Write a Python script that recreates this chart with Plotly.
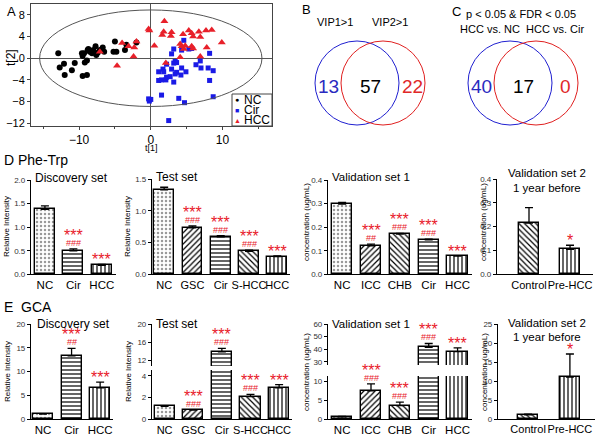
import plotly.graph_objects as go

W, H = 598, 435
FONT = "Liberation Sans, Arial, sans-serif"
RED = "#e8202a"
BLUE = "#1a1ae6"

# ---------------- data ----------------
# Panel A: OPLS-DA scores
nc_t1 = [-12.9, -12.7, -12.1, -12.0, -11.0, -10.6, -9.6, -9.5, -9.5, -9.2, -8.9, -8.9, -8.8, -8.7, -8.5,
         -8.2, -8.0, -7.7, -7.6, -7.4, -7.1, -6.7, -6.5, -5.2, -5.0, -4.8, -3.6, -3.4, -2.0, -9.3]
nc_t2 = [0.9, -1.7, -1.0, -3.1, -2.2, -0.9, 0.9, 0.4, -3.3, -0.8, -0.4, -3.1, 1.5, 1.7, 1.2,
         0.9, 1.5, 2.2, 0.6, 1.0, 1.5, 2.0, 1.2, 1.2, 3.1, 1.2, 1.5, 2.5, 2.9, 0.9]
cir_t1 = [4.6, 2.9, 3.2, 2.2, 1.7, 1.1, 1.8, 1.1, 1.5, 2.1, 2.2, 2.7, 2.9, 3.2, 3.4, 3.6, 3.2, 3.4, 3.6,
          4.2, 4.3, 4.9, 5.3, 6.3, 6.9, 7.0, 8.0, 8.2, 8.2, 8.7, -0.3, -0.2, 0.0, 1.5, 3.9, 4.7, 8.7,
          2.5, 5.7, 4.3]
cir_t2 = [3.3, 0.8, 1.7, -1.1, -2.0, -2.5, -2.5, -4.1, -4.0, -4.0, -3.5, -3.4, -2.0, -0.9, -0.6, -0.8,
          -4.4, -2.9, -2.6, -3.1, -1.8, -2.5, 1.7, -1.2, -0.5, -1.8, -1.8, 0.9, -4.1, -2.3, -7.5, -7.9,
          -7.6, -6.8, -7.4, -8.2, -7.1, -11.5, 1.8, 1.5]
hcc_t1 = [-7.1, -4.7, -4.0, -3.1, -2.4, -2.3, -2.0, -0.3, -0.2, 0.5, 1.9, 1.6, 1.8, 2.9, 2.8, 2.1, 4.1,
          4.5, 4.1, 4.3, 4.6, 4.8, 5.3, 5.7, 5.9, 5.7, 5.9, 6.7, 6.9, 6.9, 7.7, 7.8, 8.5, 9.9]
hcc_t2 = [1.2, -1.4, 2.8, 2.2, 0.3, 2.0, 3.1, 5.4, 5.1, 2.3, 6.8, 4.3, 4.9, 4.8, 4.1, -0.9, 0.2,
          4.4, 2.6, 2.2, 1.7, 2.3, 5.1, 4.6, 4.0, 2.2, 1.8, 4.9, 3.9, 0.3, 5.1, 2.0, 5.2, 2.9]
ellipse_t1 = 15.5
ellipse_t2 = 8.9

# Panels B, C: Venn counts
venn_b_counts = [13, 57, 22]
venn_b_labels = ["VIP1>1", "VIP2>1"]
venn_c_counts = [40, 17, 0]
venn_c_title = "p < 0.05 & FDR < 0.05"
venn_c_labels = ["HCC vs. NC", "HCC vs. Cir"]

# Panel D: Phe-Trp
d_disc_cats = ["NC", "Cir", "HCC"]
d_disc_vals = [1.38, 0.50, 0.19]
d_disc_err = [0.07, 0.04, 0.02]
d_disc_stars = ["", "***", "***"]
d_disc_hash = ["", "###", ""]

d_test_cats = ["NC", "GSC", "Cir", "S-HCC", "HCC"]
d_test_vals = [1.33, 0.73, 0.59, 0.36, 0.28]
d_test_err = [0.04, 0.03, 0.02, 0.02, 0.01]
d_test_stars = ["", "***", "***", "***", "***"]
d_test_hash = ["", "###", "###", "###", ""]

d_val1_cats = ["NC", "ICC", "CHB", "Cir", "HCC"]
d_val1_vals = [0.298, 0.121, 0.170, 0.146, 0.077]
d_val1_err = [0.007, 0.007, 0.004, 0.003, 0.002]
d_val1_stars = ["", "***", "***", "***", "***"]
d_val1_hash = ["", "##", "###", "###", ""]

d_val2_cats = ["Control", "Pre-HCC"]
d_val2_vals = [0.215, 0.105]
d_val2_err = [0.065, 0.017]
d_val2_stars = ["", "*"]
d_val2_hash = ["", ""]

# Panel E: GCA
e_disc_cats = ["NC", "Cir", "HCC"]
e_disc_vals = [1.1, 13.3, 6.6]
e_disc_err = [0.1, 1.6, 1.2]
e_disc_stars = ["", "***", "***"]
e_disc_hash = ["", "##", ""]

e_test_cats = ["NC", "GSC", "Cir", "S-HCC", "HCC"]
e_test_vals = [1.2, 0.85, 13.8, 2.1, 2.9]
e_test_err = [0.05, 0.05, 0.8, 0.2, 0.3]
e_test_stars = ["", "***", "***", "***", "***"]
e_test_hash = ["", "###", "###", "###", ""]

e_val1_cats = ["NC", "ICC", "CHB", "Cir", "HCC"]
e_val1_vals = [0.6, 7.5, 3.6, 41.5, 38.0]
e_val1_err = [0.1, 1.9, 0.9, 3.0, 3.0]
e_val1_stars = ["", "***", "***", "***", "***"]
e_val1_hash = ["", "###", "###", "###", ""]

e_val2_cats = ["Control", "Pre-HCC"]
e_val2_vals = [1.1, 11.0]
e_val2_err = [0.2, 6.1]
e_val2_stars = ["", "*"]
e_val2_hash = ["", ""]

# ---------------- helpers ----------------
def px(x):
    return x / W

def py(y):
    return 1 - y / H

fig = go.Figure()
layout = {}
annotations = []
shapes = []
axn = [1]

def txt(x, y, s, size=12, color="black", xanchor="center", yanchor="middle", angle=0):
    annotations.append(dict(x=px(x), y=py(y), xref="paper", yref="paper", text=s, showarrow=False,
                            xanchor=xanchor, yanchor=yanchor, textangle=angle,
                            font=dict(family=FONT, size=size, color=color)))

PAT = {"NC": ".", "Cir": "-", "HCC": "|", "GSC": "/", "S-HCC": "\\", "ICC": "/", "CHB": "\\",
       "Control": "\\", "Pre-HCC": "|"}

def bar_panel(cats, vals, errs, stars, hashes, xdom, xrange, segs, width, label_size=11.5):
    n = len(cats)
    xs = list(range(n))
    pats = [PAT[c] for c in cats]
    fg = ["#9a9a9a" if p == "." else "black" for p in pats]
    seg_axes = []
    for si, (ytop, ybot, yr, tv, fmt) in enumerate(segs):
        axn[0] += 1
        k = axn[0]
        xa, ya = f"x{k}", f"y{k}"
        lower = si == 0
        layout[f"xaxis{k}"] = dict(domain=[px(xdom[0]), px(xdom[1])], range=xrange, anchor=ya,
                                   tickvals=xs, ticktext=cats, showline=lower, linecolor="black",
                                   linewidth=1.2, ticks="", showticklabels=lower, showgrid=False,
                                   zeroline=False, tickangle=0, automargin=False,
                                   tickfont=dict(family=FONT, size=label_size, color="black"),
                                   ticklabelstandoff=0)
        layout[f"yaxis{k}"] = dict(domain=[py(ybot), py(ytop)], range=yr, anchor=xa, tickvals=tv,
                                   tickformat=fmt, showline=True, linecolor="black", linewidth=1.2,
                                   ticks="outside", ticklen=3, tickwidth=1, showgrid=False, zeroline=False,
                                   automargin=False, tickcolor="black",
                                   tickfont=dict(family=FONT, size=8, color="#333"))
        fig.add_trace(go.Bar(
            x=xs, y=vals, width=width, xaxis=xa, yaxis=ya, showlegend=False,
            marker=dict(color="white", line=dict(color="black", width=1.4),
                        pattern=dict(shape=pats, fgcolor=fg, bgcolor="white", size=4, solidity=0.3)),
            error_y=dict(type="data", array=errs, arrayminus=[0] * n, symmetric=False,
                         color="black", thickness=1.3, width=4)))
        seg_axes.append((xa, ya, yr))
    for i in range(n):
        top = vals[i] + errs[i]
        xa, ya, yr = seg_axes[0]
        for sa in seg_axes:
            if sa[2][0] <= top <= sa[2][1]:
                xa, ya, yr = sa
        shift = 0
        if hashes[i]:
            annotations.append(dict(x=i, y=top, xref=xa, yref=ya, text=hashes[i], showarrow=False,
                                    yanchor="bottom", yshift=-1,
                                    font=dict(family=FONT, size=9, color=RED)))
            shift = 9
        if stars[i]:
            annotations.append(dict(x=i, y=top, xref=xa, yref=ya, text=stars[i], showarrow=False,
                                    yanchor="bottom", yshift=shift - 6,
                                    font=dict(family=FONT, size=16, color=RED)))

# ---------------- Panel A ----------------
layout["xaxis"] = dict(domain=[px(31), px(272)], range=[-16.7, 16.9], anchor="y", tickvals=[-10, 0, 10],
                       showline=True, mirror=True, linecolor="#444", linewidth=1, ticks="outside",
                       ticklen=3, minor=dict(dtick=5, ticks="outside", ticklen=2, tickcolor="#444"),
                       showgrid=False, zeroline=True, zerolinecolor="#555", zerolinewidth=1,
                       tickangle=0, automargin=False, tickcolor="#444",
                       tickfont=dict(family=FONT, size=12, color="black"))
layout["yaxis"] = dict(domain=[py(126), py(4)], range=[-12.5, 10], anchor="x",
                       tickvals=[-12, -8, -4, 0, 4, 8], showline=True, mirror=True, linecolor="#444",
                       linewidth=1, ticks="outside", ticklen=3, showgrid=False, zeroline=True,
                       zerolinecolor="#555", zerolinewidth=1, automargin=False, tickcolor="#444",
                       tickfont=dict(family=FONT, size=11, color="black"))
shapes.append(dict(type="circle", xref="x", yref="y", x0=-ellipse_t1, x1=ellipse_t1,
                   y0=-ellipse_t2, y1=ellipse_t2, line=dict(color="#555", width=1)))
fig.add_trace(go.Scatter(x=nc_t1, y=nc_t2, mode="markers", name="NC", showlegend=False,
                         marker=dict(symbol="circle", size=6, color="black")))
fig.add_trace(go.Scatter(x=cir_t1, y=cir_t2, mode="markers", name="Cir", showlegend=False,
                         marker=dict(symbol="square", size=5, color=BLUE)))
fig.add_trace(go.Scatter(x=hcc_t1, y=hcc_t2, mode="markers", name="HCC", showlegend=False,
                         marker=dict(symbol="triangle-up", size=7, color=RED)))
txt(5, 11, "A", 13, xanchor="left")
txt(151, 148, "t[1]", 9)
txt(11, 58, "t[2]", 12, angle=-90)
# legend box
shapes.append(dict(type="rect", xref="paper", yref="paper", x0=px(232), x1=px(272), y0=py(126), y1=py(94),
                   line=dict(color="#444", width=1), fillcolor="white"))
for j, (nm, sym, col) in enumerate([("NC", "●", "black"), ("Cir", "■", BLUE), ("HCC", "▲", RED)]):
    yy = 100 + j * 10
    txt(237, yy, sym, 7, col)
    txt(242, yy, nm, 12, xanchor="left")

# ---------------- Panels B, C (Venn) ----------------
def venn(cx1, cx2, cy, r, counts, letter_x, letter_y, letter):
    shapes.append(dict(type="circle", xref="paper", yref="paper", x0=px(cx1 - r), x1=px(cx1 + r),
                       y0=py(cy + r), y1=py(cy - r), line=dict(color="#2020d0", width=1)))
    shapes.append(dict(type="circle", xref="paper", yref="paper", x0=px(cx2 - r), x1=px(cx2 + r),
                       y0=py(cy + r), y1=py(cy - r), line=dict(color="#e02020", width=1)))
    txt(((cx1 - r) + (cx2 - r)) / 2, cy + 3, str(counts[0]), 19, "#2a2ac0")
    txt(((cx2 - r) + (cx1 + r)) / 2, cy + 3, str(counts[1]), 19, "black")
    txt(((cx1 + r) + (cx2 + r)) / 2, cy + 3, str(counts[2]), 19, "#e02828")
    txt(letter_x, letter_y, letter, 13, xanchor="left")

venn(357, 383, 83, 42, venn_b_counts, 300, 9, "B")
txt(335, 22, venn_b_labels[0], 11)
txt(390, 22, venn_b_labels[1], 11)
venn(510, 536, 83, 42, venn_c_counts, 450, 11, "C")
txt(521, 14, venn_c_title, 11)
txt(522, 29, venn_c_labels[0] + "  " + venn_c_labels[1], 11)

# ---------------- Panel D ----------------
txt(2, 160, "D Phe-Trp", 14, xanchor="left")
bar_panel(d_disc_cats, d_disc_vals, d_disc_err, d_disc_stars, d_disc_hash, (31, 116), [-0.49, 2.5],
          [(180, 274.3, [0, 2.0], [0, 0.5, 1.0, 1.5, 2.0], ".1f")], 0.7)
bar_panel(d_test_cats, d_test_vals, d_test_err, d_test_stars, d_test_hash, (152, 290), [-0.43, 4.45],
          [(179, 274.3, [0, 1.5], [0, 0.5, 1.0, 1.5], ".1f")], 0.7, 11)
bar_panel(d_val1_cats, d_val1_vals, d_val1_err, d_val1_stars, d_val1_hash, (328, 472), [-0.49, 4.5],
          [(180, 274.3, [0, 0.4], [0, 0.1, 0.2, 0.3, 0.4], ".1f")], 0.7)
bar_panel(d_val2_cats, d_val2_vals, d_val2_err, d_val2_stars, d_val2_hash, (497, 593), [-0.78, 1.56],
          [(179, 274.3, [0, 0.4], [0, 0.1, 0.2, 0.3, 0.4], ".1f")], 0.49, 11)
txt(33, 178, "Discovery set", 12, xanchor="left")
txt(154, 177, "Test set", 12, xanchor="left")
txt(330, 177, "Validation set 1", 11.5, xanchor="left")
txt(547, 173, "Validation set 2", 11.5)
txt(547, 188, "1 year before", 11.5)
txt(6, 227, "Relative Intensity", 8, angle=-90)
txt(127, 227, "Relative Intensity", 8, angle=-90)
txt(306, 222, "concentration (ug/mL)", 8, angle=-90)
txt(483, 222, "concentration (ug/mL)", 8, angle=-90)

# ---------------- Panel E ----------------
txt(2, 307, "E  GCA", 14, xanchor="left")
bar_panel(e_disc_cats, e_disc_vals, e_disc_err, e_disc_stars, e_disc_hash, (31, 113), [-0.42, 2.45],
          [(324, 419.3, [0, 20], [0, 5, 10, 15, 20], "d")], 0.7)
bar_panel(e_test_cats, e_test_vals, e_test_err, e_test_stars, e_test_hash, (152, 292), [-0.44, 4.45],
          [(370, 419.3, [0, 4.55], [0, 2, 4], "d"), (324, 366, [10.67, 20], [12, 16, 20], "d")], 0.7, 11)
bar_panel(e_val1_cats, e_val1_vals, e_val1_err, e_val1_stars, e_val1_hash, (328, 472), [-0.49, 4.5],
          [(376, 419, [0, 11.5], [0, 5, 10], "d"), (324, 365, [27.4, 60], [30, 40, 50, 60], "d")], 0.7)
bar_panel(e_val2_cats, e_val2_vals, e_val2_err, e_val2_stars, e_val2_hash, (498, 595), [-0.72, 1.6],
          [(324, 419, [0, 25], [0, 5, 10, 15, 20, 25], "d")], 0.49, 11)
txt(35, 324, "Discovery set", 12, xanchor="left")
txt(154, 324, "Test set", 12, xanchor="left")
txt(330, 324, "Validation set 1", 11.5, xanchor="left")
txt(547, 323, "Validation set 2", 11.5)
txt(547, 337, "1 year before", 11.5)
txt(7, 372, "Relative Intensity", 8, angle=-90)
txt(128, 372, "Relative Intensity", 8, angle=-90)
txt(306, 372, "concentration (ug/mL)", 8, angle=-90)
txt(484, 372, "concentration (ug/mL)", 8, angle=-90)

fig.update_layout(template="none", width=W, height=H, margin=dict(l=0, r=0, t=0, b=0, pad=0),
                  paper_bgcolor="white", plot_bgcolor="white", annotations=annotations, shapes=shapes,
                  bargap=0, font=dict(family=FONT, color="black"), **layout)
fig.write_html("out.html", config={"displayModeBar": False},
               post_script="document.body.style.margin='0';document.body.style.overflow='hidden';")
